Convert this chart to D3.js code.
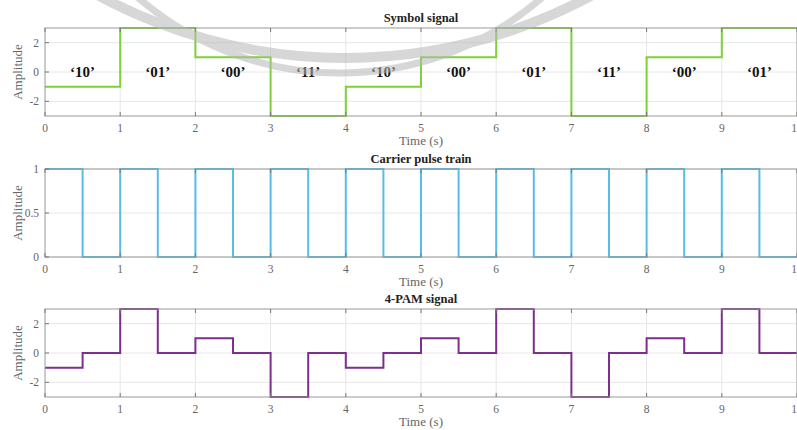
<!DOCTYPE html>
<html lang="en">
<head>
<meta charset="UTF-8">
<title>4-PAM</title>
<script src="https://cdn.jsdelivr.net/npm/d3@7"></script>
<style>
  body { margin: 0; background: #fff; }
  svg { display: block; font-family: "Liberation Serif", "Times New Roman", serif; }
  .grid line { stroke: #e6e6e6; stroke-width: 1; }
  .frame { fill: none; stroke: #999; stroke-width: 1; }
  .tick-lbl { fill: #666; font-size: 11.5px; }
  .ax-lbl { fill: #666; font-size: 13px; }
  .title { fill: #222; font-size: 12.5px; font-weight: bold; }
  .bits { fill: #111; font-size: 15px; font-weight: bold; }
</style>
</head>
<body>
<svg id="chart" width="797" height="430"></svg>
<script>
// values
const timeTicks = [0, 1, 2, 3, 4, 5, 6, 7, 8, 9, 10];
const symbolLevels = [-1, 3, 1, -3, -1, 1, 3, -3, 1, 3];          // one per second
const bitLabels = ["‘10’", "‘01’", "‘00’", "‘11’", "‘10’", "‘00’", "‘01’", "‘11’", "‘00’", "‘01’"];
const carrierLevels = [1, 0, 1, 0, 1, 0, 1, 0, 1, 0, 1, 0, 1, 0, 1, 0, 1, 0, 1, 0]; // one per half second
const pamLevels = [-1, 0, 3, 0, 1, 0, -3, 0, -1, 0, 1, 0, 3, 0, -3, 0, 1, 0, 3, 0];
const pamTicks = [-2, 0, 2];
const carrierTicks = [0, 0.5, 1];

const svg = d3.select("#chart");
const x = d3.scaleLinear().domain([0, 10]).range([45, 797]);

// turn level arrays into step points (last point repeated at the end)
function steps(levels, dt) {
  const pts = levels.map((v, i) => ({ t: i * dt, v: v }));
  pts.push({ t: levels.length * dt, v: levels[levels.length - 1] });
  return pts;
}

function panel(opts) {
  const y = d3.scaleLinear().domain(opts.domain).range([opts.bottom, opts.top]);
  const g = svg.append("g");

  // grid
  const grid = g.append("g").attr("class", "grid");
  grid.selectAll(".vx").data(timeTicks.slice(1)).enter().append("line")
    .attr("x1", d => x(d)).attr("x2", d => x(d))
    .attr("y1", opts.top).attr("y2", opts.bottom);
  grid.selectAll(".hy").data(opts.ticks).enter().append("line")
    .attr("x1", x(0)).attr("x2", x(10))
    .attr("y1", d => y(d)).attr("y2", d => y(d));

  // signal
  const line = d3.line().x(d => x(d.t)).y(d => y(d.v)).curve(d3.curveStepAfter);
  g.append("path")
    .datum(steps(opts.levels, opts.dt))
    .attr("fill", "none")
    .attr("stroke", opts.color)
    .attr("stroke-width", 2)
    .attr("d", line);

  // box + inward ticks
  g.append("rect").attr("class", "frame")
    .attr("x", x(0)).attr("y", opts.top)
    .attr("width", x(10) - x(0)).attr("height", opts.bottom - opts.top);
  const tk = g.append("g").attr("stroke", "#777").attr("stroke-width", 1);
  timeTicks.forEach(t => {
    tk.append("line").attr("x1", x(t)).attr("x2", x(t)).attr("y1", opts.bottom).attr("y2", opts.bottom - 4);
    tk.append("line").attr("x1", x(t)).attr("x2", x(t)).attr("y1", opts.top).attr("y2", opts.top + 4);
  });
  opts.ticks.forEach(v => {
    tk.append("line").attr("x1", x(0)).attr("x2", x(0) + 4).attr("y1", y(v)).attr("y2", y(v));
  });

  // tick labels
  g.selectAll(".xl").data(timeTicks).enter().append("text")
    .attr("class", "tick-lbl")
    .attr("x", d => x(d)).attr("y", opts.bottom + 16)
    .attr("text-anchor", "middle")
    .text(d => d);
  g.selectAll(".yl").data(opts.ticks).enter().append("text")
    .attr("class", "tick-lbl")
    .attr("x", x(0) - 6).attr("y", d => y(d) + 4)
    .attr("text-anchor", "end")
    .text(d => d);

  g.append("text").attr("class", "ax-lbl")
    .attr("x", x(5)).attr("y", opts.bottom + 29)
    .attr("text-anchor", "middle").text("Time (s)");
  g.append("text").attr("class", "ax-lbl")
    .attr("transform", "translate(22," + ((opts.top + opts.bottom) / 2) + ") rotate(-90)")
    .attr("text-anchor", "middle").text("Amplitude");
  g.append("text").attr("class", "title")
    .attr("x", x(5)).attr("y", opts.top - 6)
    .attr("text-anchor", "middle").text(opts.title);

  return y;
}

const y1 = panel({ title: "Symbol signal", top: 28, bottom: 116, domain: [-3, 3], ticks: pamTicks,
  levels: symbolLevels, dt: 1, color: "#7fd03c" });
panel({ title: "Carrier pulse train", top: 169, bottom: 257, domain: [0, 1], ticks: carrierTicks,
  levels: carrierLevels, dt: 0.5, color: "#55bde8" });
panel({ title: "4-PAM signal", top: 309, bottom: 397, domain: [-3, 3], ticks: pamTicks,
  levels: pamLevels, dt: 0.5, color: "#7e2f8e" });

// bit pair labels
svg.append("g").selectAll("text").data(bitLabels).enter().append("text")
  .attr("class", "bits")
  .attr("x", (d, i) => x(i + 0.5)).attr("y", y1(0) + 5)
  .attr("text-anchor", "middle")
  .text(d => d);

// faded watermark rings at the top
const wm = svg.append("g").attr("fill", "none").attr("stroke", "#b8b8b8").attr("opacity", 0.55);
wm.append("circle").attr("cx", 345).attr("cy", -459).attr("r", 517).attr("stroke-width", 10);
wm.append("circle").attr("cx", 340).attr("cy", -235).attr("r", 308).attr("stroke-width", 7);
</script>
</body>
</html>
